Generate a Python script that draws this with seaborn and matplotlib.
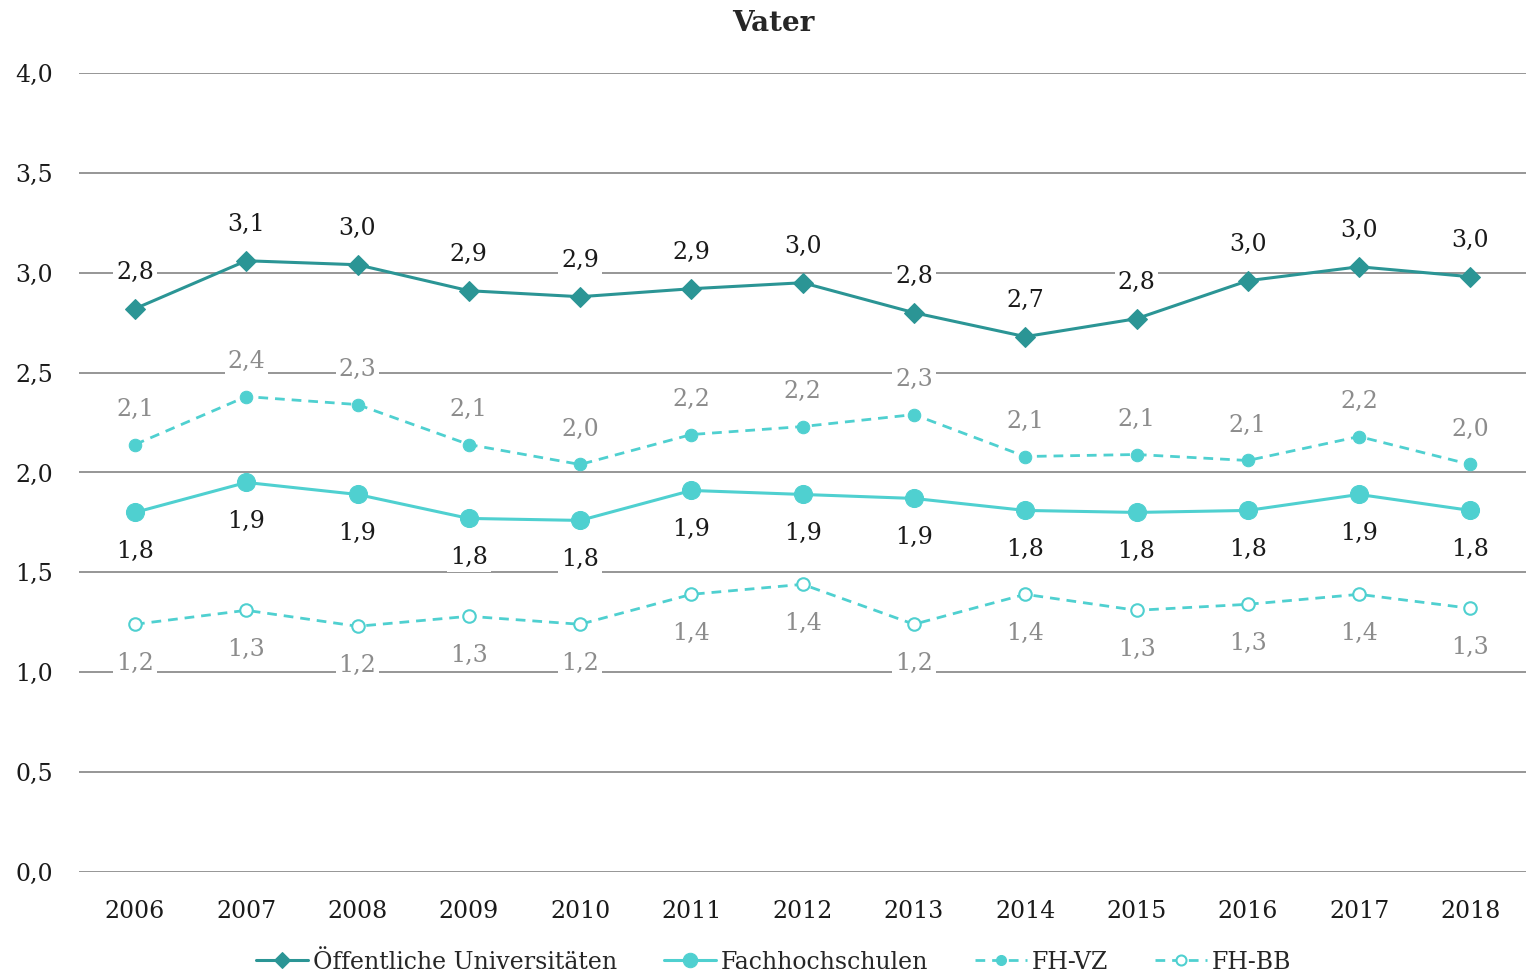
import matplotlib
matplotlib.use("Agg")
import matplotlib.pyplot as plt
import seaborn as sns
import pandas as pd

years = [2006, 2007, 2008, 2009, 2010, 2011, 2012, 2013, 2014, 2015, 2016, 2017, 2018]
uni = [2.82, 3.06, 3.04, 2.91, 2.88, 2.92, 2.95, 2.80, 2.68, 2.77, 2.96, 3.03, 2.98]
fh = [1.80, 1.95, 1.89, 1.77, 1.76, 1.91, 1.89, 1.87, 1.81, 1.80, 1.81, 1.89, 1.81]
fh_vz = [2.14, 2.38, 2.34, 2.14, 2.04, 2.19, 2.23, 2.29, 2.08, 2.09, 2.06, 2.18, 2.04]
fh_bb = [1.24, 1.31, 1.23, 1.28, 1.24, 1.39, 1.44, 1.24, 1.39, 1.31, 1.34, 1.39, 1.32]
yticks = [0.0, 0.5, 1.0, 1.5, 2.0, 2.5, 3.0, 3.5, 4.0]
series_names = ["Öffentliche Universitäten", "Fachhochschulen", "FH-VZ", "FH-BB"]

sns.set_style("white")
plt.rcParams["font.family"] = ["DejaVu Serif"]

dark = "#2b9595"
light = "#4fd0d0"
grey_txt = "#8c8c8c"

fig = plt.figure(figsize=(15.26, 9.76), dpi=100)
ax = fig.add_axes([0.052, 0.1066, 0.948, 0.8186])

df = pd.DataFrame({"Jahr": years, "uni": uni, "fh": fh, "vz": fh_vz, "bb": fh_bb})

for y in yticks:
    ax.axhline(y, color="#969696", lw=1.4, zorder=0)

sns.lineplot(data=df, x="Jahr", y="uni", ax=ax, color=dark, lw=2.2, marker="D",
             markersize=10, markeredgecolor=dark, label=series_names[0], zorder=5)
sns.lineplot(data=df, x="Jahr", y="fh", ax=ax, color=light, lw=2.2, marker="o",
             markersize=13, markeredgecolor=light, label=series_names[1], zorder=5)
sns.lineplot(data=df, x="Jahr", y="vz", ax=ax, color=light, lw=2.0, marker="o",
             markersize=9, markeredgecolor=light, linestyle=(0, (3.5, 2.5)),
             label=series_names[2], zorder=5)
sns.lineplot(data=df, x="Jahr", y="bb", ax=ax, color=light, lw=2.0, marker="o",
             markersize=9, markerfacecolor="white", markeredgecolor=light,
             markeredgewidth=1.5, linestyle=(0, (3.5, 2.5)),
             label=series_names[3], zorder=5)

def fmt(v):
    return f"{v:.1f}".replace(".", ",")

box = dict(boxstyle="square,pad=0.12", fc="white", ec="none")
for x, v in zip(years, uni):
    ax.annotate(fmt(v), (x, v), xytext=(0, 26), textcoords="offset points",
                ha="center", va="center", fontsize=17, color="#1a1a1a", bbox=box, zorder=4)
for x, v in zip(years, fh_vz):
    ax.annotate(fmt(v), (x, v), xytext=(0, 25), textcoords="offset points",
                ha="center", va="center", fontsize=17, color=grey_txt, bbox=box, zorder=4)
for x, v in zip(years, fh):
    ax.annotate(fmt(v), (x, v), xytext=(0, -28), textcoords="offset points",
                ha="center", va="center", fontsize=17, color="#1a1a1a", bbox=box, zorder=4)
for x, v in zip(years, fh_bb):
    ax.annotate(fmt(v), (x, v), xytext=(0, -28), textcoords="offset points",
                ha="center", va="center", fontsize=17, color=grey_txt, bbox=box, zorder=4)

ax.set_xlim(2005.5, 2018.5)
ax.set_ylim(0, 4.0)
ax.set_xticks(years)
ax.set_xticklabels([str(y) for y in years], fontsize=17, color="#1a1a1a")
ax.set_yticks(yticks)
ax.set_yticklabels([fmt(y) for y in yticks], fontsize=17, color="#1a1a1a")
ax.tick_params(axis="x", length=0, pad=20)
ax.tick_params(axis="y", length=0, pad=19)
ax.set_xlabel("")
ax.set_ylabel("")
for s in ax.spines.values():
    s.set_visible(False)

ax.set_title("Vater", fontsize=20, fontweight="bold", pad=30, x=0.48)

ax.legend(loc="upper center", bbox_to_anchor=(0.48, -0.072), ncol=4, frameon=False,
          fontsize=17, handlelength=2.2, columnspacing=2.0, handletextpad=0.2,
          markerscale=0.8)

fig.savefig("out.png", dpi=100)
